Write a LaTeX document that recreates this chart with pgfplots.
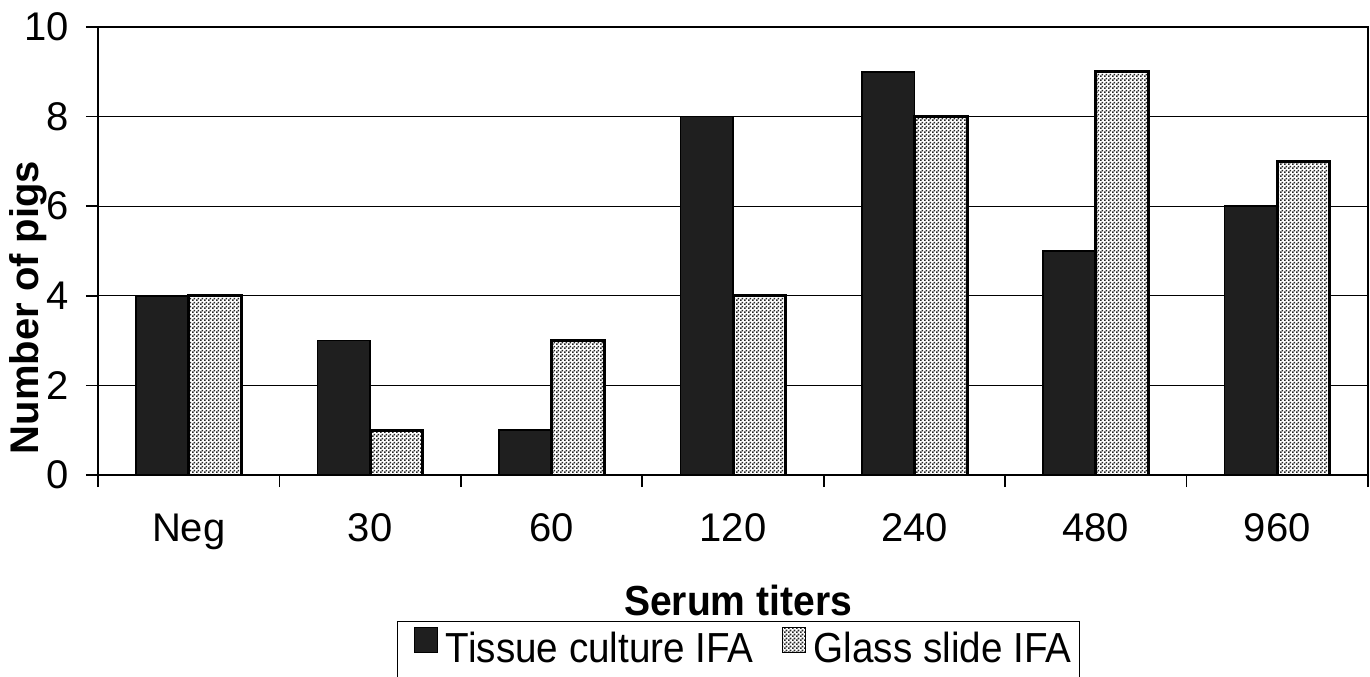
\documentclass[border=0pt]{standalone}
\usepackage{pgfplots}
\pgfplotsset{compat=1.18}
\usetikzlibrary{patterns.meta}
\usepackage{fontspec}
\setmainfont{Liberation Sans}
\newfontfamily\tickfont{Liberation Sans}
\newfontfamily\legfont[FakeStretch=0.92]{Liberation Sans}
\newfontfamily\xlabfont[FakeStretch=0.93]{Liberation Sans}
\tikzdeclarepattern{
  name=checker,
  type=uncolored,
  bottom left={(0pt,0pt)},
  top right={(2pt,2pt)},
  tile size={(2pt,2pt)},
  code={
    \fill (0pt,0pt) rectangle (1pt,1pt);
    \fill (1pt,1pt) rectangle (2pt,2pt);
  }
}
\begin{document}
\begin{tikzpicture}
\begin{axis}[
  scale only axis, width=635pt, height=224pt,
  xmin=-0.5, xmax=6.5, ymin=0, ymax=10,
  xtick={0,...,6}, xticklabels={Neg,30,60,120,240,480,960},
  minor xtick={-0.5,0.5,...,6.5},
  ytick={0,2,...,10},
  tick pos=left, tick align=outside,
  major tick length=6pt, minor tick length=6pt,
  every tick/.style={line width=0.8pt, black},
  every major x tick/.style={draw=none},
  ymajorgrids, grid style={line width=0.5pt, black},
  axis line style={line width=1pt},
  /pgf/number format/assume math mode=true,
  ticklabel style={font=\tickfont\fontsize{20}{24}\selectfont},
  xticklabel style={anchor=base, yshift=-27pt},
  yticklabel style={anchor=east, xshift=-5pt},
  ylabel={Number of pigs},
  ylabel style={at={(axis description cs:-0.0551,0.374)}, anchor=center, font=\fontsize{20}{24}\selectfont\bfseries},
  xlabel={Serum titers},
  xlabel style={at={(axis description cs:0.504,-0.279)}, anchor=center, font=\xlabfont\fontsize{21}{25}\selectfont\bfseries},
  legend style={at={(axis description cs:0.2354,-0.3259)}, anchor=north west,
    draw=black, line width=0.6pt, legend columns=2,
    font=\legfont\fontsize{21}{25}\selectfont,
    inner xsep=1pt, inner ysep=2pt,
    nodes={inner sep=3pt, text depth=6pt},
    /tikz/every odd column/.append style={column sep=1pt},
    /tikz/every even column/.append style={column sep=3.5pt}},
  legend cell align=left,
  legend image code/.code={\path (0pt,0pt); \draw[#1, line width=0.6pt] (7pt,0pt) rectangle (18.5pt,12.5pt);},
]
\addplot[ybar, bar width=0.29, bar shift=-0.145, fill=black!88, draw=black, line width=0.8pt]
  coordinates {(0,4) (1,3) (2,1) (3,8) (4,9) (5,5) (6,6)};
\addlegendentry{Tissue culture IFA}
\addplot[ybar, bar width=0.29, bar shift=0.145, fill=white, draw=black, line width=1.5pt,
  postaction={pattern=checker, pattern color=black!85}]
  coordinates {(0,4) (1,1) (2,3) (3,4) (4,8) (5,9) (6,7)};
\addlegendentry{Glass slide IFA}
\coordinate (sw) at (rel axis cs:0,0);
\coordinate (ne) at (rel axis cs:1,1);
\end{axis}
\pgfresetboundingbox
\useasboundingbox ([shift={(-49pt,-100.5pt)}]sw) rectangle ([shift={(1pt,13.5pt)}]ne);
\end{tikzpicture}
\end{document}
